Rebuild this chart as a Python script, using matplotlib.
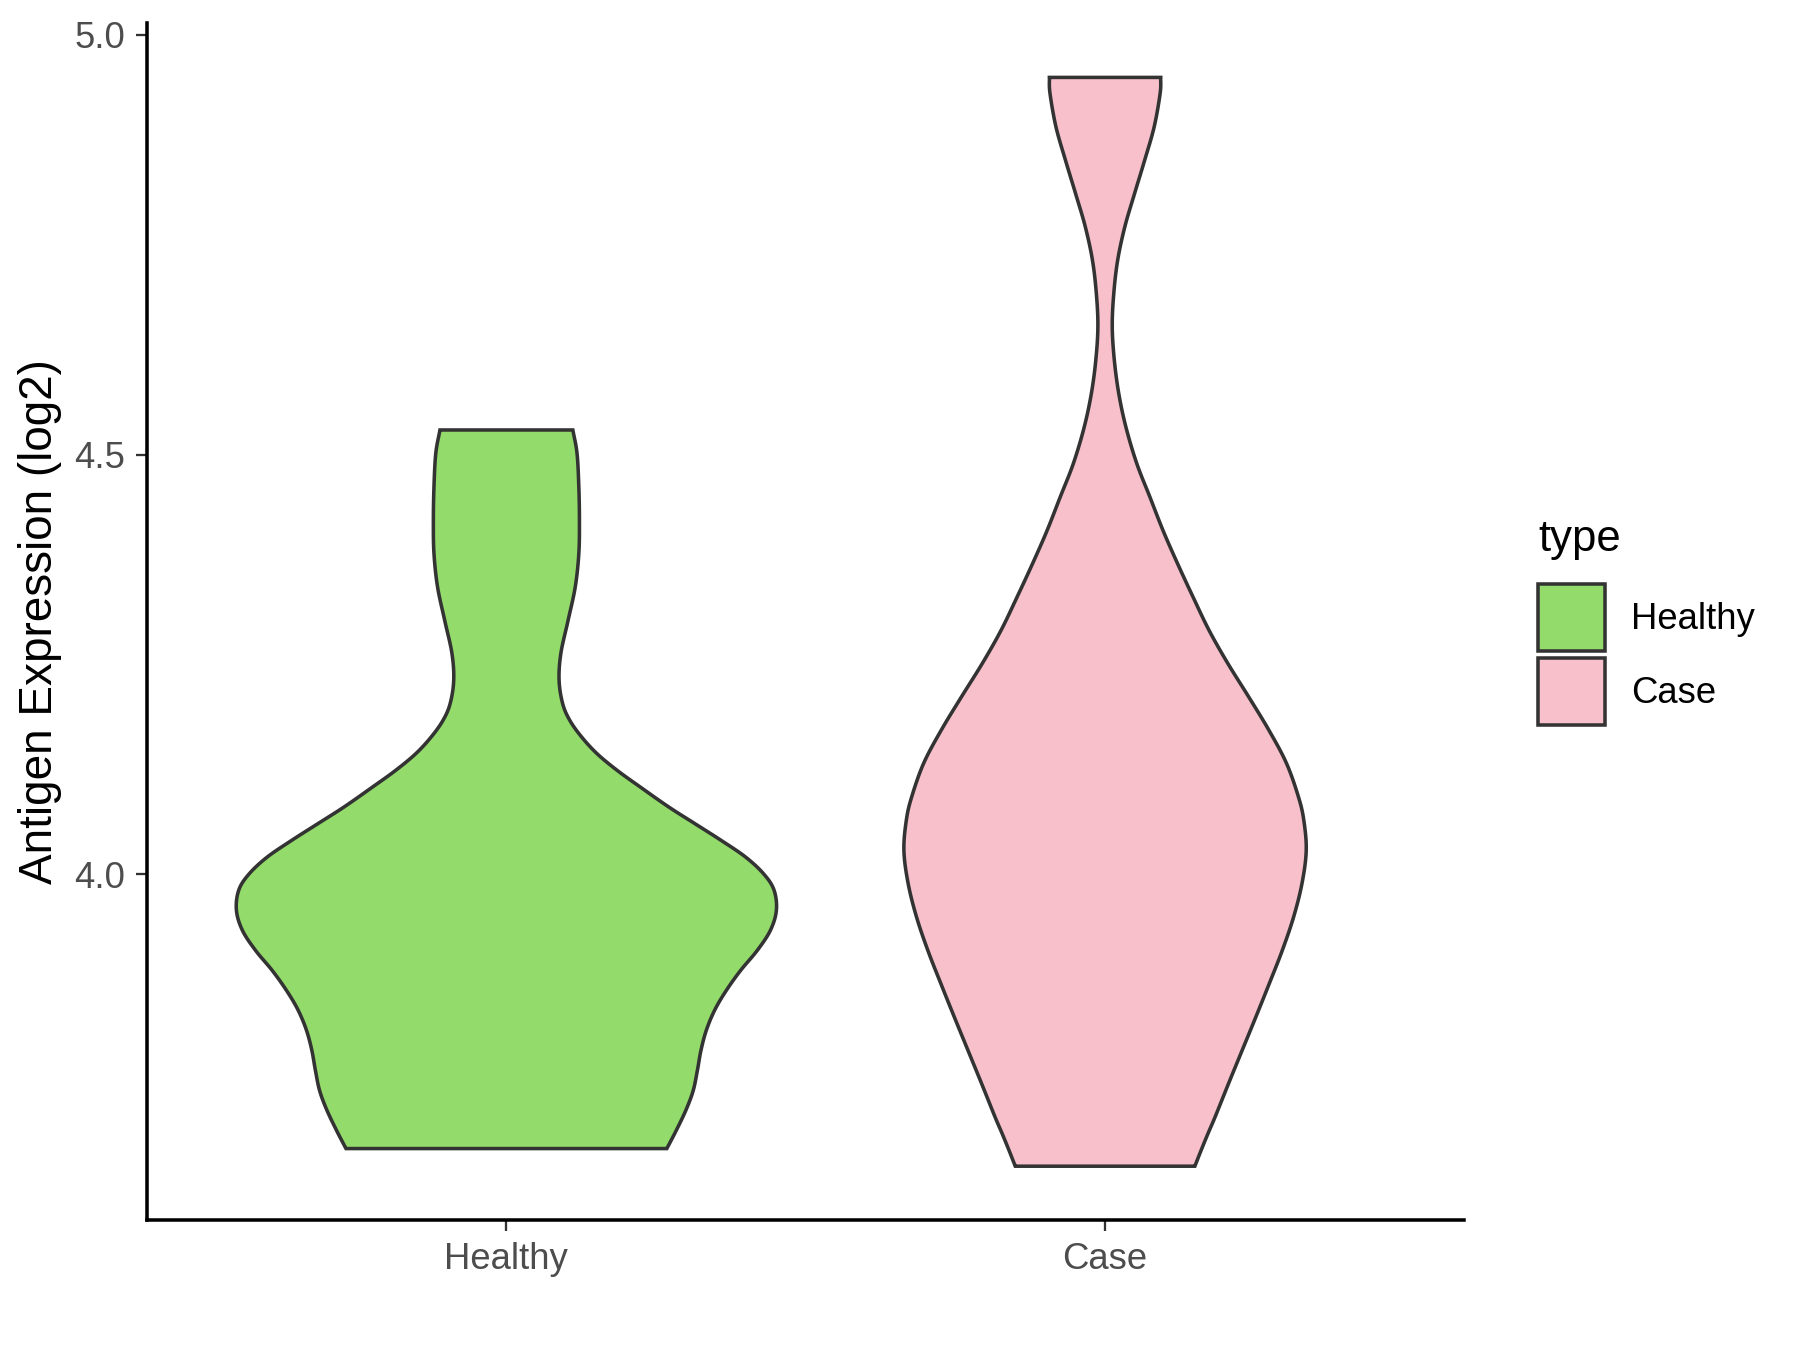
import numpy as np
import matplotlib
matplotlib.use("Agg")
import matplotlib.pyplot as plt
from matplotlib.patches import Patch

plt.rcParams["font.family"] = ["Liberation Sans", "DejaVu Sans"]

# categorias y colores
categorias = ["Healthy", "Case"]
colores = ["#93DB6A", "#F7C0CB"]

# perfil del violin "Healthy": nivel (log2) y medio ancho (unidades de categoria)
healthy_y = [3.674, 3.696, 3.720, 3.743, 3.767, 3.791, 3.815, 3.839, 3.862, 3.886,
             3.910, 3.934, 3.958, 3.982, 4.001, 4.021, 4.041, 4.061, 4.081, 4.105,
             4.124, 4.144, 4.164, 4.184, 4.204, 4.232, 4.264, 4.303, 4.343, 4.383,
             4.422, 4.462, 4.502, 4.530]
healthy_w = [0.268, 0.284, 0.300, 0.312, 0.319, 0.325, 0.334, 0.348, 0.367, 0.391,
             0.419, 0.441, 0.451, 0.447, 0.430, 0.400, 0.359, 0.315, 0.271, 0.223,
             0.186, 0.152, 0.126, 0.106, 0.094, 0.088, 0.091, 0.103, 0.115, 0.121,
             0.122, 0.121, 0.118, 0.111]

# perfil del violin "Case"
case_y = [3.653, 3.672, 3.692, 3.712, 3.751, 3.791, 3.831, 3.870, 3.910, 3.950, 3.990,
          4.029, 4.065, 4.093, 4.133, 4.172, 4.212, 4.252, 4.291, 4.331, 4.371,
          4.410, 4.450, 4.490, 4.533, 4.573, 4.613, 4.653, 4.692, 4.732, 4.772,
          4.811, 4.851, 4.891, 4.931, 4.950]
case_w = [0.150, 0.1605, 0.172, 0.184, 0.206, 0.229, 0.252, 0.274, 0.296, 0.315, 0.329,
          0.336, 0.332, 0.323, 0.303, 0.274, 0.240, 0.205, 0.174, 0.147, 0.121,
          0.097, 0.075, 0.053, 0.035, 0.023, 0.0155, 0.012, 0.0145, 0.021, 0.033,
          0.049, 0.066, 0.082, 0.092, 0.093]

y_ticks = [4.0, 4.5, 5.0]


def suavizar(y, w, n=12):
    # curva catmull-rom que pasa por los puntos leidos
    P = np.column_stack([y, w])
    P = np.vstack([2 * P[0] - P[1], P, 2 * P[-1] - P[-2]])
    t = np.linspace(0, 1, n, endpoint=False)[:, None]
    partes = []
    for i in range(1, len(P) - 2):
        p0, p1, p2, p3 = P[i - 1], P[i], P[i + 1], P[i + 2]
        partes.append(0.5 * (2 * p1 + (-p0 + p2) * t
                             + (2 * p0 - 5 * p1 + 4 * p2 - p3) * t ** 2
                             + (-p0 + 3 * p1 - 3 * p2 + p3) * t ** 3))
    partes.append(P[-2][None])
    s = np.vstack(partes)
    return s[:, 0], s[:, 1]


fig = plt.figure(figsize=(12, 9), dpi=150)
ax = fig.add_axes([0.0815, 0.0961, 0.7317, 0.8871])

perfiles = [(healthy_y, healthy_w), (case_y, case_w)]
for i, (yy, ww) in enumerate(perfiles):
    pos = i + 1
    ys, ws = suavizar(yy, ww)
    ax.fill_betweenx(ys, pos - ws, pos + ws, facecolor=colores[i],
                     edgecolor="#333333", linewidth=1.7, joinstyle="miter")

ax.set_xlim(0.4, 2.6)
ax.set_ylim(3.588, 5.0146)
ax.set_xticks([1, 2])
ax.set_xticklabels(categorias)
ax.set_yticks(y_ticks)
ax.set_yticklabels([f"{v:.1f}" for v in y_ticks])

for lado in ["top", "right"]:
    ax.spines[lado].set_visible(False)
for lado in ["left", "bottom"]:
    ax.spines[lado].set_linewidth(1.7)
    ax.spines[lado].set_color("black")

ax.tick_params(axis="both", length=5.3, width=1.1, color="#333333",
               labelcolor="#4D4D4D", labelsize=17.5, pad=5)
ax.set_ylabel("Antigen Expression (log2)", fontsize=22, color="black", labelpad=6)

# leyenda: titulo aparte y cajas
fig.text(1538 / 1800, 1 - 540 / 1350, "type", fontsize=21, va="center", ha="left")
manejadores = [Patch(facecolor=colores[i], edgecolor="#333333", linewidth=1.7,
                     label=categorias[i]) for i in range(2)]
leg = fig.legend(handles=manejadores, loc="upper left",
                 bbox_to_anchor=(1538 / 1800, 1 - 584 / 1350), frameon=False,
                 fontsize=17.5, handlelength=1.85, handleheight=2.45,
                 labelspacing=0.2, handletextpad=0.7,
                 borderpad=0, borderaxespad=0)

fig.savefig("out.png", dpi=150)
